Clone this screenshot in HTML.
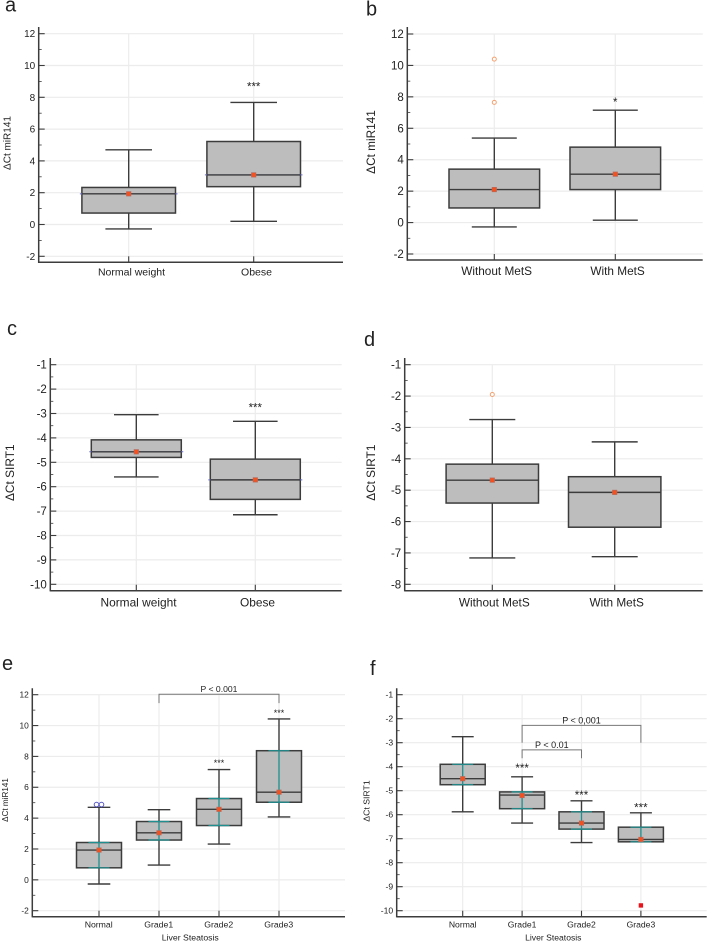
<!DOCTYPE html>
<html lang="en">
<head>
<meta charset="utf-8">
<title>Box plots of miR141 and SIRT1</title>
<style>
html,body{margin:0;padding:0;background:#fff;width:709px;height:942px;overflow:hidden}
svg{display:block;filter:blur(0.3px)}
text{font-family:"Liberation Sans",sans-serif;fill:#222}
</style>
</head>
<body>
<svg id="figure" xmlns="http://www.w3.org/2000/svg" width="709" height="942" viewBox="0 0 709 942"></svg>
<script>
/* Panel a */
const aCategories = ["Normal weight", "Obese"];
const aWhiskerHigh = [4.7, 7.68];
const aQ3 = [2.33, 5.22];
const aMedian = [1.93, 3.12];
const aQ1 = [0.72, 2.38];
const aWhiskerLow = [-0.28, 0.2];
const aMean = [1.93, 3.12];
const aOutliers = [[], []];
const aStars = ["", "***"];
const aStarValues = [null, 8.84];
const aYTicks = [-2, 0, 2, 4, 6, 8, 10, 12];

/* Panel b */
const bCategories = ["Without MetS", "With MetS"];
const bWhiskerHigh = [5.38, 7.15];
const bQ3 = [3.4, 4.8];
const bMedian = [2.1, 3.08];
const bQ1 = [0.93, 2.1];
const bWhiskerLow = [-0.28, 0.15];
const bMean = [2.1, 3.08];
const bOutliers = [[7.65, 10.4], []];
const bStars = ["", "*"];
const bStarValues = [null, 7.83];
const bYTicks = [-2, 0, 2, 4, 6, 8, 10, 12];

/* Panel c */
const cCategories = ["Normal weight", "Obese"];
const cWhiskerHigh = [-3.05, -3.32];
const cQ3 = [-4.08, -4.87];
const cMedian = [-4.57, -5.72];
const cQ1 = [-4.8, -6.52];
const cWhiskerLow = [-5.6, -7.15];
const cMean = [-4.57, -5.72];
const cOutliers = [[], []];
const cStars = ["", "***"];
const cStarValues = [null, -2.65];
const cYTicks = [-10, -9, -8, -7, -6, -5, -4, -3, -2, -1];

/* Panel d */
const dCategories = ["Without MetS", "With MetS"];
const dWhiskerHigh = [-2.75, -3.46];
const dQ3 = [-4.17, -4.57];
const dMedian = [-4.68, -5.07];
const dQ1 = [-5.41, -6.18];
const dWhiskerLow = [-7.16, -7.12];
const dMean = [-4.68, -5.07];
const dOutliers = [[-1.95], []];
const dStars = ["", ""];
const dStarValues = [null, null];
const dYTicks = [-8, -7, -6, -5, -4, -3, -2, -1];

/* Panel e */
const eCategories = ["Normal", "Grade1", "Grade2", "Grade3"];
const eWhiskerHigh = [4.7, 4.55, 7.15, 10.43];
const eQ3 = [2.42, 3.78, 5.27, 8.37];
const eMedian = [1.93, 3.05, 4.57, 5.68];
const eQ1 = [0.78, 2.58, 3.52, 5.03];
const eWhiskerLow = [-0.27, 0.96, 2.32, 4.08];
const eMean = [1.93, 3.05, 4.57, 5.68];
const eOutliers = [[4.88, 4.88], [], [], []];
const eStars = ["", "", "***", "***"];
const eStarValues = [null, null, 7.73, 10.95];
const eYTicks = [-2, 0, 2, 4, 6, 8, 10, 12];
const eBracketFrom = [1];
const eBracketTo = [3];
const eBracketTop = [12.03];
const eBracketEnd = [11.45];
const eBracketLabels = ["P < 0.001"];

/* Panel f */
const fCategories = ["Normal", "Grade1", "Grade2", "Grade3"];
const fWhiskerHigh = [-2.75, -4.42, -5.42, -5.92];
const fQ3 = [-3.9, -5.05, -5.88, -6.52];
const fMedian = [-4.5, -5.18, -6.35, -7.03];
const fQ1 = [-4.75, -5.75, -6.6, -7.13];
const fWhiskerLow = [-5.88, -6.35, -7.16, -7.13];
const fMean = [-4.5, -5.2, -6.35, -7.03];
const fOutliers = [[], [], [], [-9.78]];
const fStars = ["", "***", "***", "***"];
const fStarValues = [null, -3.94, -5.07, -5.58];
const fYTicks = [-10, -9, -8, -7, -6, -5, -4, -3, -2, -1];
const fBracketFrom = [1, 1];
const fBracketTo = [3, 2];
const fBracketTop = [-2.28, -3.3];
const fBracketEnd = [-3.0, -3.65];
const fBracketLabels = ["P < 0,001", "P < 0.01"];

const NS = "http://www.w3.org/2000/svg";
const figure = document.getElementById("figure");

function svgEl(tag, attrs, parent) {
  const el = document.createElementNS(NS, tag);
  for (const k in attrs) el.setAttribute(k, attrs[k]);
  parent.appendChild(el);
  return el;
}

function line(parent, x1, y1, x2, y2, stroke, width) {
  return svgEl("line", {x1: x1, y1: y1, x2: x2, y2: y2, stroke: stroke, "stroke-width": width}, parent);
}

function label(parent, str, x, y, size, anchor) {
  const el = svgEl("text", {x: x, y: y, "font-size": size, "text-anchor": anchor, dy: "0.35em"}, parent);
  el.textContent = str;
  return el;
}

function drawPanel(p) {
  const g = svgEl("g", {}, figure);
  
  

  const yScale = function (v) {
    return p.yPxA + (v - p.yValA) * (p.yPxB - p.yPxA) / (p.yValB - p.yValA);
  };
  const xScale = function (i) {
    return p.x0 + i * p.xStep;
  };
  const AXIS = "#3c3c3c", BOX = "#3c3c3c", GRID = "#ececec";
  const ticks = p.yTicks;

  const letter = svgEl("text", {x: p.letterX, y: p.letterY, "font-size": 20}, g);
  letter.textContent = p.id;
  
  

  /* grid */
  ticks.forEach(function (t) {
    const gl = line(g, p.left, yScale(t), p.right, yScale(t), GRID, 1.2);
    
    
  });
  p.categories.forEach(function (c, i) {
    const gl = line(g, xScale(i), yScale(ticks[ticks.length - 1]), xScale(i), p.bottom, GRID, 1.2);
    
    
  });

  /* y ticks + labels */
  ticks.forEach(function (t, i) {
    const tk = line(g, p.left, yScale(t), p.left + 6, yScale(t), AXIS, 1.1);
    
    
    const tl = label(g, String(t), p.left - 3.5, yScale(t), p.tickSize, "end");
    
    
    if (i < ticks.length - 1) {
      const mid = (t + ticks[i + 1]) / 2;
      const mt = line(g, p.left, yScale(mid), p.left + 3, yScale(mid), AXIS, 0.8);
      
      
    }
  });

  /* axes */
  const ya = line(g, p.left, p.top, p.left, p.bottom + 0.7, AXIS, 1.5);
  
  
  const xa = line(g, p.left, p.bottom, p.right, p.bottom, AXIS, 1.5);
  
  

  const yt = svgEl("text", {
    x: p.titleX, y: p.titleY, "font-size": p.titleSize, "text-anchor": "middle", dy: "0.35em",
    transform: "rotate(-90 " + p.titleX + " " + p.titleY + ")"
  }, g);
  yt.textContent = p.yTitle;
  
  

  if (p.xTitle) {
    const xt = label(g, p.xTitle, p.xTitleX, p.xTitleY, p.labelSize, "middle");
    
    
  }

  /* boxes */
  p.categories.forEach(function (c, i) {
    const x = xScale(i);
    const box = svgEl("g", {}, g);
    
    

    const tk = line(g, x, p.bottom, x, p.bottom - 6, AXIS, 1.1);
    
    
    const cl = label(g, c, x + p.labelShift, p.labelY, p.labelSize, "middle");
    
    

    const stem = line(box, x, yScale(p.high[i]), x, yScale(p.low[i]), BOX, 1.4);
    
    
    const capHi = line(box, x - p.capHalf, yScale(p.high[i]), x + p.capHalf, yScale(p.high[i]), BOX, 1.4);
    
    
    const capLo = line(box, x - p.capHalf, yScale(p.low[i]), x + p.capHalf, yScale(p.low[i]), BOX, 1.4);
    
    

    const rect = svgEl("rect", {
      x: x - p.boxHalf, y: yScale(p.q3[i]), width: 2 * p.boxHalf,
      height: yScale(p.q1[i]) - yScale(p.q3[i]),
      fill: "#bdbdbd", stroke: BOX, "stroke-width": 1.5
    }, box);
    
    

    if (p.teal) {
      const tv = line(box, x, yScale(p.q3[i]), x, yScale(p.q1[i]), "#1f8f8f", 1.3);
      
      
      const tt = line(box, x - 10.5, yScale(p.q3[i]), x + 10.5, yScale(p.q3[i]), "#1f8f8f", 1.2);
      
      
      const tb = line(box, x - 10.5, yScale(p.q1[i]), x + 10.5, yScale(p.q1[i]), "#1f8f8f", 1.2);
      
      
    }

    const ext = p.medianBlue ? 2 : 0;
    if (ext) {
      const bl = line(box, x - p.boxHalf - ext, yScale(p.median[i]), x + p.boxHalf + ext, yScale(p.median[i]), "#6a6ad0", 1);
      
      
    }
    const med = line(box, x - p.boxHalf, yScale(p.median[i]), x + p.boxHalf, yScale(p.median[i]), BOX, 1.4);
    
    

    const mean = svgEl("rect", {
      x: x - 2.2, y: yScale(p.mean[i]) - 2.2, width: 4.4, height: 4.4,
      fill: "#f4511e", stroke: "#b9685a", "stroke-width": 0.7
    }, box);
    
    

    p.outliers[i].forEach(function (v, k, arr) {
      const dup = arr.length > 1 && arr[0] === arr[1];
      const ox = dup ? x + (k === 0 ? -2.5 : 2.5) : x;
      let o;
      if (p.outlierStyle === "square") {
        o = svgEl("rect", {x: ox - 2.2, y: yScale(v) - 2.2, width: 4.4, height: 4.4, fill: "#e8141c"}, box);
      } else {
        o = svgEl("circle", {
          cx: ox, cy: yScale(v), r: p.outlierStyle === "blue" ? 2.3 : 2,
          fill: "#fff", stroke: p.outlierStyle === "blue" ? "#5a5ac8" : "#f4a070", "stroke-width": 1
        }, box);
      }
      
      
    });

    if (p.stars[i]) {
      const st = svgEl("text", {
        x: x, y: yScale(p.starValues[i]) + p.starSize * 0.58,
        "font-size": p.starSize, "text-anchor": "middle"
      }, box);
      st.textContent = p.stars[i];
      
      
    }
  });

  /* brackets */
  (p.bracketFrom || []).forEach(function (from, b) {
    const x1 = xScale(from), x2 = xScale(p.bracketTo[b]);
    const yTop = yScale(p.bracketTop[b]), yEnd = yScale(p.bracketEnd[b]);
    const br = svgEl("polyline", {
      points: x1 + "," + yEnd + " " + x1 + "," + yTop + " " + x2 + "," + yTop + " " + x2 + "," + yEnd,
      fill: "none", stroke: "#777", "stroke-width": 1
    }, g);
    
    
    const bl = label(g, p.bracketLabels[b], (x1 + x2) / 2, yTop - 5, p.bracketSize, "middle");
    
    
  });
}

drawPanel({
  id: "a", categories: aCategories, high: aWhiskerHigh, q3: aQ3, median: aMedian, q1: aQ1, low: aWhiskerLow,
  mean: aMean, outliers: aOutliers, stars: aStars, starValues: aStarValues, yTicks: aYTicks,
  yValA: 12, yPxA: 33.7, yValB: -2, yPxB: 256.3, x0: 128.7, xStep: 125,
  left: 38.7, right: 343, top: 27, bottom: 262.3, boxHalf: 46.8, capHalf: 23.3,
  tickSize: 10, labelSize: 10.5, labelY: 272, labelShift: 2.8, starSize: 11.5,
  yTitle: "\u0394Ct miR141", titleX: 7, titleY: 143, titleSize: 10,
  letterX: 5, letterY: 11.7, medianBlue: true, outlierStyle: "orange"
});
drawPanel({
  id: "b", categories: bCategories, high: bWhiskerHigh, q3: bQ3, median: bMedian, q1: bQ1, low: bWhiskerLow,
  mean: bMean, outliers: bOutliers, stars: bStars, starValues: bStarValues, yTicks: bYTicks,
  yValA: 12, yPxA: 34, yValB: -2, yPxB: 254, x0: 494.3, xStep: 121,
  left: 407.3, right: 702.7, top: 27, bottom: 260, boxHalf: 45.3, capHalf: 22.5,
  tickSize: 11.5, labelSize: 11.8, labelY: 271, labelShift: 2.3, starSize: 11.5,
  yTitle: "\u0394Ct miR141", titleX: 371, titleY: 142, titleSize: 11.8,
  letterX: 366, letterY: 15.7, outlierStyle: "orange"
});
drawPanel({
  id: "c", categories: cCategories, high: cWhiskerHigh, q3: cQ3, median: cMedian, q1: cQ1, low: cWhiskerLow,
  mean: cMean, outliers: cOutliers, stars: cStars, starValues: cStarValues, yTicks: cYTicks,
  yValA: -1, yPxA: 364.7, yValB: -10, yPxB: 584.3, x0: 136.3, xStep: 119,
  left: 50.3, right: 341.7, top: 358, bottom: 590.7, boxHalf: 45, capHalf: 22.3,
  tickSize: 11.5, labelSize: 11.9, labelY: 602.3, labelShift: 2.2, starSize: 11.5,
  yTitle: "\u0394Ct SIRT1", titleX: 10, titleY: 472.7, titleSize: 11.9,
  letterX: 7, letterY: 335, medianBlue: true, outlierStyle: "orange"
});
drawPanel({
  id: "d", categories: dCategories, high: dWhiskerHigh, q3: dQ3, median: dMedian, q1: dQ1, low: dWhiskerLow,
  mean: dMean, outliers: dOutliers, stars: dStars, starValues: dStarValues, yTicks: dYTicks,
  yValA: -1, yPxA: 364.7, yValB: -8, yPxB: 584.3, x0: 492.3, xStep: 122.4,
  left: 404.7, right: 702.7, top: 358, bottom: 590.7, boxHalf: 46.2, capHalf: 23,
  tickSize: 11.5, labelSize: 11.8, labelY: 602.3, labelShift: 2, starSize: 11.5,
  yTitle: "\u0394Ct SIRT1", titleX: 371, titleY: 472.7, titleSize: 11.8,
  letterX: 364, letterY: 346, outlierStyle: "orange"
});
drawPanel({
  id: "e", categories: eCategories, high: eWhiskerHigh, q3: eQ3, median: eMedian, q1: eQ1, low: eWhiskerLow,
  mean: eMean, outliers: eOutliers, stars: eStars, starValues: eStarValues, yTicks: eYTicks,
  bracketFrom: eBracketFrom, bracketTo: eBracketTo, bracketTop: eBracketTop, bracketEnd: eBracketEnd,
  bracketLabels: eBracketLabels, bracketSize: 8.6,
  yValA: 12, yPxA: 694.7, yValB: -2, yPxB: 910.7, x0: 99, xStep: 60,
  left: 32.3, right: 345, top: 688.3, bottom: 916.7, boxHalf: 22.5, capHalf: 11.3,
  tickSize: 8.4, labelSize: 8.7, labelY: 924.7, labelShift: -0.3, starSize: 9,
  yTitle: "\u0394Ct miR141", titleX: 5.3, titleY: 800, titleSize: 8.1,
  xTitle: "Liver Steatosis", xTitleX: 190.3, xTitleY: 937.7,
  letterX: 2, letterY: 670, teal: true, outlierStyle: "blue"
});
drawPanel({
  id: "f", categories: fCategories, high: fWhiskerHigh, q3: fQ3, median: fMedian, q1: fQ1, low: fWhiskerLow,
  mean: fMean, outliers: fOutliers, stars: fStars, starValues: fStarValues, yTicks: fYTicks,
  bracketFrom: fBracketFrom, bracketTo: fBracketTo, bracketTop: fBracketTop, bracketEnd: fBracketEnd,
  bracketLabels: fBracketLabels, bracketSize: 9,
  yValA: -1, yPxA: 694.7, yValB: -10, yPxB: 910.7, x0: 462.7, xStep: 59.4,
  left: 396.7, right: 706.7, top: 688.3, bottom: 916.7, boxHalf: 22.5, capHalf: 11,
  tickSize: 8.6, labelSize: 8.6, labelY: 924.7, labelShift: 0, starSize: 11.5,
  yTitle: "\u0394Ct SIRT1", titleX: 366.7, titleY: 801, titleSize: 8.7,
  xTitle: "Liver Steatosis", xTitleX: 553.3, xTitleY: 937.7,
  letterX: 370, letterY: 675, teal: true, outlierStyle: "square"
});
</script>
</body>
</html>
